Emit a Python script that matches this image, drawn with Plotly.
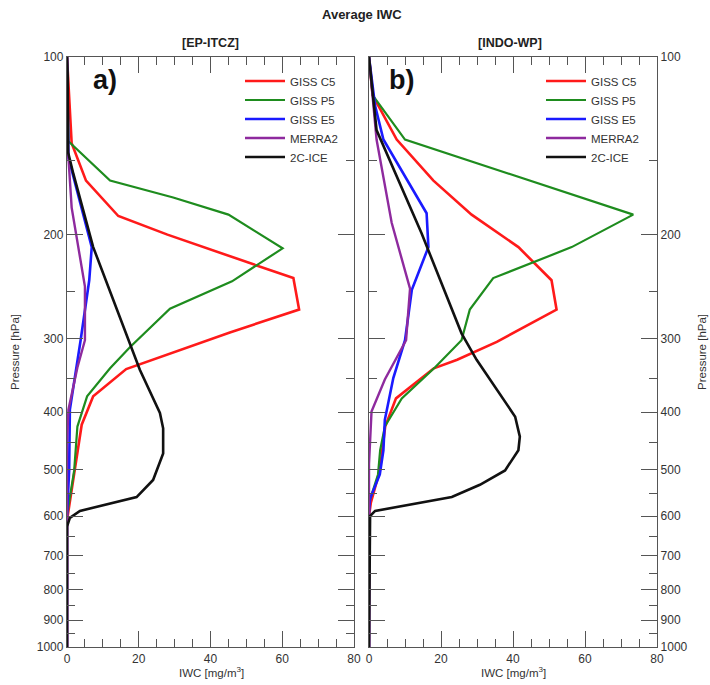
import plotly.graph_objects as go

# ---------------- data ----------------
series_names = ["GISS C5", "GISS P5", "GISS E5", "MERRA2", "2C-ICE"]
series_colors = ["#ff1a1a", "#1e8c1e", "#1a1aff", "#8e2a9e", "#111111"]
series_widths = [2.6, 2.2, 2.6, 2.4, 2.6]

# Panel a) [EP-ITCZ]
c5_a_p = [100, 121, 140, 162, 186, 200, 237, 268, 293, 338, 376, 420, 502, 570, 610, 1000]
c5_a_v = [0, 0.8, 1.3, 5.3, 14.3, 28, 63.1, 64.7, 45.4, 16.5, 7.3, 4.1, 2.2, 0.8, 0, 0]
p5_a_p = [100, 139, 162, 173, 185, 211, 240, 267, 310, 337, 376, 423, 502, 560, 598, 1000]
p5_a_v = [0, 0.4, 12, 29.6, 45, 60.1, 46, 28.7, 17.6, 12, 5.6, 2.9, 2.0, 0.7, 0, 0]
e5_a_p = [100, 148, 210, 239, 302, 340, 396, 502, 570, 600, 1000]
e5_a_v = [0, 0.4, 6.9, 6.2, 3.8, 2.4, 0.8, 0.6, 0.2, 0, 0]
m2_a_p = [100, 145, 180, 245, 302, 336, 396, 450, 1000]
m2_a_v = [0, 0.3, 1.3, 5.0, 5.0, 2.9, 0.4, 0, 0]
ice_a_p = [100, 108, 145, 158, 210, 339, 401, 426, 470, 521, 557, 575, 588, 604, 625, 1000]
ice_a_v = [0, 0.2, 0.3, 1.8, 7.3, 20.3, 25.9, 26.8, 26.8, 24, 19.4, 10, 3.6, 0.8, 0, 0]

# Panel b) [INDO-WP]
c5_b_p = [100, 116, 138, 162, 185, 210, 239, 268, 304, 326, 337, 379, 423, 502, 570, 600, 1000]
c5_b_v = [0, 1, 7.7, 17.9, 28.5, 41.5, 50.7, 52.1, 35.5, 24.5, 18.0, 7.5, 4.5, 3.0, 0.5, 0, 0]
p5_b_p = [100, 116, 138, 185, 210, 237, 268, 302, 336, 379, 423, 464, 510, 570, 1000]
p5_b_v = [0, 1, 10, 73.4, 56.3, 34.5, 28, 25.7, 18.3, 9.1, 4.4, 3.1, 2.5, 0, 0]
e5_b_p = [100, 121, 138, 184, 210, 248, 302, 350, 412, 464, 510, 560, 590, 1000]
e5_b_v = [0, 1.7, 4, 16, 16.5, 11.9, 10, 6.75, 4.4, 4, 3, 0.3, 0, 0]
m2_b_p = [100, 138, 191, 247, 302, 352, 399, 464, 490, 1000]
m2_b_v = [0, 2.1, 6.3, 11.4, 10.3, 4.4, 0.7, 0.3, 0, 0]
ice_b_p = [100, 118, 133, 199, 294, 326, 407, 440, 464, 502, 531, 557, 588, 600, 1000]
ice_b_v = [0, 1.2, 2.1, 14.6, 25.7, 29.9, 40.6, 41.9, 41.5, 37.8, 30.8, 23, 1.7, 0.3, 0]

panel_a = [(c5_a_v, c5_a_p), (p5_a_v, p5_a_p), (e5_a_v, e5_a_p), (m2_a_v, m2_a_p), (ice_a_v, ice_a_p)]
panel_b = [(c5_b_v, c5_b_p), (p5_b_v, p5_b_p), (e5_b_v, e5_b_p), (m2_b_v, m2_b_p), (ice_b_v, ice_b_p)]

x_major = [0, 20, 40, 60, 80]
x_minor = [5, 10, 15, 25, 30, 35, 45, 50, 55, 65, 70, 75]
p_major = [100, 200, 300, 400, 500, 600, 700, 800, 900, 1000]
p_minor = [150, 250, 350, 450, 550, 650, 750, 850, 950]

title_text = "Average IWC"
panel_titles = ["[EP-ITCZ]", "[INDO-WP]"]
panel_labels = ["a)", "b)"]
x_title = "IWC [mg/m<sup>3</sup>]"
y_title = "Pressure [hPa]"

# ---------------- figure ----------------
W, H = 710, 685
FONT = "Liberation Sans, Arial, sans-serif"

fig = go.Figure()
for k, (panel, xa, ya, lg) in enumerate([(panel_a, "x", "y", "legend"), (panel_b, "x2", "y2", "legend2")]):
    for i, (v, p) in enumerate(panel):
        fig.add_trace(go.Scatter(
            x=v, y=p, mode="lines", name=series_names[i],
            line=dict(color=series_colors[i], width=series_widths[i]),
            xaxis=xa, yaxis=ya, legend=lg, showlegend=True,
        ))

def px(xp):
    return xp / W

def py(yp):
    return 1 - yp / H

axis_common = dict(
    showline=True, linecolor="#555555", linewidth=1.3, mirror="ticks",
    ticks="inside", ticklen=16, tickwidth=1.2, tickcolor="#555555",
    showgrid=False, zeroline=False, automargin=False,
    tickfont=dict(family=FONT, size=12, color="#333333"),
)

xdom_a = [px(67), px(354)]
xdom_b = [px(369), px(657)]
ydom = [py(647), py(57)]

xcommon = dict(axis_common, range=[0, 80], tickmode="array", tickvals=x_major,
               minor=dict(tickmode="array", tickvals=x_minor, ticks="inside", ticklen=8,
                          tickcolor="#555555", tickwidth=1.1, showgrid=False))
ycommon = dict(axis_common, type="log", range=[3, 2], tickmode="array", tickvals=p_major,
               ticktext=[str(v) for v in p_major],
               minor=dict(tickmode="array", tickvals=p_minor, ticks="inside", ticklen=8,
                          tickcolor="#555555", tickwidth=1.1, showgrid=False))

legend_common = dict(xanchor="left", yanchor="top", bgcolor="rgba(0,0,0,0)",
                     font=dict(family=FONT, size=11.5, color="#333333"),
                     itemwidth=40, tracegroupgap=0)

fig.update_layout(
    width=W, height=H, autosize=False,
    margin=dict(l=0, r=0, t=0, b=0, pad=0),
    paper_bgcolor="white", plot_bgcolor="white",
    font=dict(family=FONT, color="#222222"),
    xaxis=dict(xcommon, domain=xdom_a, anchor="y"),
    yaxis=dict(ycommon, domain=ydom, anchor="x", side="left"),
    xaxis2=dict(xcommon, domain=xdom_b, anchor="y2"),
    yaxis2=dict(ycommon, domain=ydom, anchor="x2", side="right"),
    legend=dict(legend_common, x=px(240), y=py(66.5)),
    legend2=dict(legend_common, x=px(541), y=py(66.5)),
    showlegend=True,
)

ann = []
def add_text(text, xc, yc, size, color="#222222", angle=0):
    ann.append(dict(text=text, x=px(xc), y=py(yc), xref="paper", yref="paper",
                    xanchor="center", yanchor="middle", showarrow=False, textangle=angle,
                    font=dict(family=FONT, size=size, color=color)))

add_text("<b>" + title_text + "</b>", 362, 15, 13)
for xc, t in zip([210, 510], panel_titles):
    add_text("<b>" + t + "</b>", xc, 43, 12.5)
for xc, t in zip([105, 401], panel_labels):
    add_text("<b>" + t + "</b>", xc, 80, 27, "#111111")
for xc in [211, 513]:
    add_text(x_title, xc, 672, 11.5, "#333333")
for xc in [15, 702]:
    add_text(y_title, xc, 352, 11.5, "#333333", -90)
fig.update_layout(annotations=ann)

fig.write_html(
    "out.html",
    post_script="document.body.style.margin='0';document.body.style.padding='0';",
)
